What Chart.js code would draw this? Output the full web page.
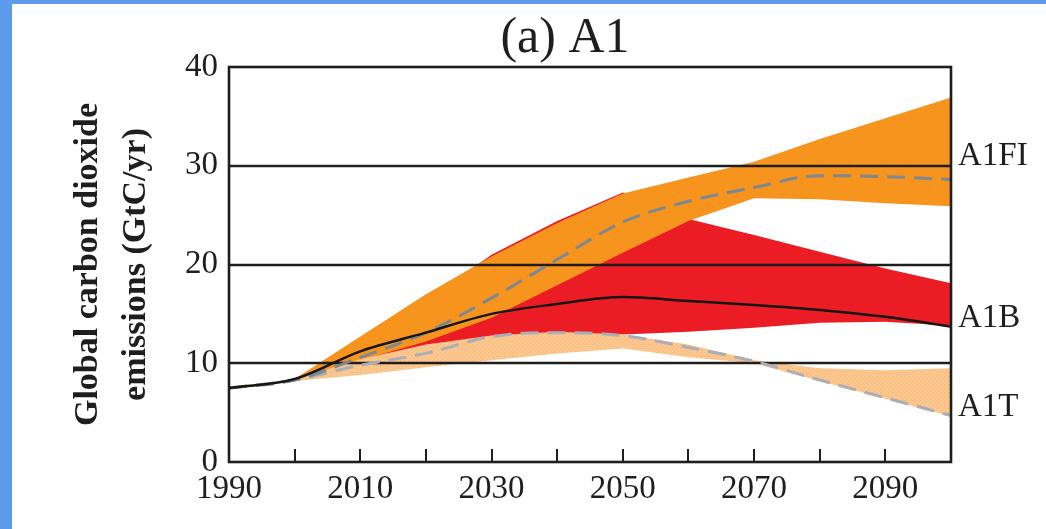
<!DOCTYPE html>
<html>
<head>
<meta charset="utf-8">
<script src="https://cdn.jsdelivr.net/npm/chart.js@4.4.1/dist/chart.umd.min.js"></script>
<style>
  html, body { margin: 0; padding: 0; }
  body { width: 1046px; height: 529px; background: #5b9bea; overflow: hidden; position: relative; }
  #panel { position: absolute; left: 12px; top: 4px; width: 1034px; height: 525px; background: #fff; }
  canvas { display: block; }
</style>
</head>
<body>
<div id="panel"><canvas id="chart" width="1034" height="525"></canvas></div>
<script>
// Years shared by every series
const years = [1990, 2000, 2010, 2020, 2030, 2040, 2050, 2060, 2070, 2080, 2090, 2100];

// A1FI range (orange) and its marker scenario (dark dashed)
const a1fiUpper  = [7.5, 8.4, 12.7, 17.0, 20.8, 24.2, 27.2, 28.8, 30.4, 32.7, 34.8, 36.9];
const a1fiLower  = [7.5, 8.4, 10.3, 12.2, 14.6, 17.9, 21.2, 24.4, 26.7, 26.6, 26.2, 25.9];
const a1fiMarker = [7.5, 8.3, 10.6, 13.1, 16.6, 20.5, 24.3, 26.4, 27.8, 29.0, 28.9, 28.6];

// A1B range (red) and its marker scenario (black)
const a1bUpper  = [7.5, 8.4, 11.0, 16.3, 21.0, 24.4, 27.3, 24.6, 23.0, 21.3, 19.6, 18.1];
const a1bLower  = [7.5, 8.4, 9.8, 11.0, 12.7, 12.9, 12.9, 13.2, 13.6, 14.1, 14.2, 13.8];
const a1bMarker = [7.5, 8.4, 11.2, 13.1, 15.0, 16.0, 16.7, 16.3, 15.9, 15.4, 14.7, 13.7];

// A1T range (light orange) and its marker scenario (light dashed)
const a1tUpper  = [7.6, 8.4, 10.4, 11.9, 12.8, 13.2, 12.9, 11.9, 10.3, 9.5, 9.3, 9.5];
const a1tLower  = [7.3, 8.2, 8.8, 9.6, 10.3, 11.0, 11.5, 10.6, 10.0, 8.2, 6.4, 4.6];
const a1tMarker = [7.5, 8.3, 9.8, 11.0, 12.7, 13.1, 12.8, 11.6, 10.2, 8.3, 6.5, 4.7];

// Axis ticks
const yTicks = [0, 10, 20, 30, 40];
const xLabelYears = [1990, 2010, 2030, 2050, 2070, 2090];

// Series names shown at the right edge, with the value their baseline sits on
const seriesNames = ['A1FI', 'A1B', 'A1T'];
const seriesNameValues = [30.1, 13.7, 4.7];

const SERIF = '"Liberation Serif", "Times New Roman", serif';
const INK = '#1e1e1e';

function pts(vals) {
    return years.map((x, i) => ({ x: x, y: vals[i] }));
}

// light orange with a fine stipple, like the printed original
function stipple() {
    const c = document.createElement('canvas');
    c.width = 4;
    c.height = 4;
    const g = c.getContext('2d');
    g.fillStyle = '#fcc78e';
    g.fillRect(0, 0, 4, 4);
    g.fillStyle = '#f6b676';
    g.fillRect(0, 0, 1, 1);
    g.fillRect(2, 2, 1, 1);
    return g.createPattern(c, 'repeat');
}

function markerLine(vals, color, dash) {
    return {
        data: pts(vals),
        borderColor: color,
        borderWidth: dash ? 3 : 2.5,
        borderDash: dash || [],
        pointRadius: 0,
        fill: false,
        cubicInterpolationMode: 'monotone'
    };
}

function bandEdge(vals, fillTo, color) {
    return {
        data: pts(vals),
        borderColor: 'rgba(0,0,0,0)',
        borderWidth: 1,
        pointRadius: 0,
        tension: 0,
        backgroundColor: color || 'rgba(0,0,0,0)',
        fill: fillTo === undefined ? false : fillTo
    };
}

// datasets earlier in the list are painted on top
const datasets = [
    markerLine(a1bMarker, '#161616'),
    markerLine(a1fiMarker, '#7d8893', [18, 9]),
    markerLine(a1tMarker, '#a9aeb7', [18, 9]),
    bandEdge(a1tUpper, 4, stipple()),
    bandEdge(a1tLower),
    bandEdge(a1fiUpper, 6, '#f7941e'),
    bandEdge(a1fiLower),
    bandEdge(a1bUpper, 8, '#ec1c24'),
    bandEdge(a1bLower)
];

// grid lines above the coloured ranges, below the scenario lines
const gridAbove = {
    id: 'gridAbove',
    beforeDatasetsDraw(chart) {
        const { ctx, chartArea, scales } = chart;
        ctx.save();
        ctx.strokeStyle = INK;
        ctx.lineWidth = 2.4;
        yTicks.forEach(v => {
            if (v === 0 || v === 40) return;
            const y = Math.round(scales.y.getPixelForValue(v));
            ctx.beginPath();
            ctx.moveTo(chartArea.left, y);
            ctx.lineTo(chartArea.right, y);
            ctx.stroke();
        });
        ctx.restore();
    }
};

// box, inward x ticks, panel title and series names
const frame = {
    id: 'frame',
    afterDraw(chart) {
        const { ctx, chartArea, scales } = chart;
        ctx.save();
        ctx.strokeStyle = INK;
        ctx.lineWidth = 2.6;
        ctx.strokeRect(chartArea.left, chartArea.top, chartArea.right - chartArea.left, chartArea.bottom - chartArea.top);
        ctx.lineWidth = 2;
        years.forEach(v => {
            if (v === 1990 || v === 2100) return;
            const x = Math.round(scales.x.getPixelForValue(v));
            ctx.beginPath();
            ctx.moveTo(x, chartArea.bottom);
            ctx.lineTo(x, chartArea.bottom - 13);
            ctx.stroke();
        });
        ctx.fillStyle = INK;

        ctx.font = '50px ' + SERIF;
        ctx.textAlign = 'center';
        ctx.textBaseline = 'middle';
        ctx.fillText('(a) A1', 553, 35);

        ctx.font = '33px ' + SERIF;
        ctx.textAlign = 'left';
        ctx.textBaseline = 'alphabetic';
        seriesNames.forEach((name, i) => {
            ctx.fillText(name, chartArea.right + 7, scales.y.getPixelForValue(seriesNameValues[i]));
        });
        ctx.restore();
    }
};

new Chart(document.getElementById('chart'), {
    type: 'line',
    data: { datasets: datasets },
    options: {
        responsive: false,
        animation: false,
        events: [],
        layout: { padding: { left: 40, right: 95, top: 63, bottom: 0 } },
        plugins: {
            legend: { display: false },
            tooltip: { enabled: false },
            filler: { drawTime: 'beforeDatasetsDraw' },
            title: { display: false }
        },
        scales: {
            x: {
                type: 'linear',
                min: 1990,
                max: 2100,
                afterBuildTicks: s => { s.ticks = years.map(v => ({ value: v })); },
                afterFit: s => { s.height = 67; },
                grid: { display: false, drawTicks: false },
                border: { display: false },
                ticks: {
                    autoSkip: false,
                    maxRotation: 0,
                    padding: 8,
                    color: INK,
                    font: { family: SERIF, size: 33 },
                    callback: v => xLabelYears.includes(v) ? String(v) : ''
                }
            },
            y: {
                min: 0,
                max: 40,
                afterBuildTicks: s => { s.ticks = yTicks.map(v => ({ value: v })); },
                afterFit: s => { s.width = 177; },
                grid: { display: false, drawTicks: false },
                border: { display: false },
                ticks: {
                    padding: 11,
                    color: INK,
                    font: { family: SERIF, size: 33 }
                },
                title: {
                    display: true,
                    text: ['Global carbon dioxide', 'emissions (GtC/yr)'],
                    color: INK,
                    font: { family: SERIF, size: 34, weight: 'bold', lineHeight: 1.42 },
                    padding: { top: 12, bottom: 0 }
                }
            }
        }
    },
    plugins: [gridAbove, frame]
});
</script>
</body>
</html>
